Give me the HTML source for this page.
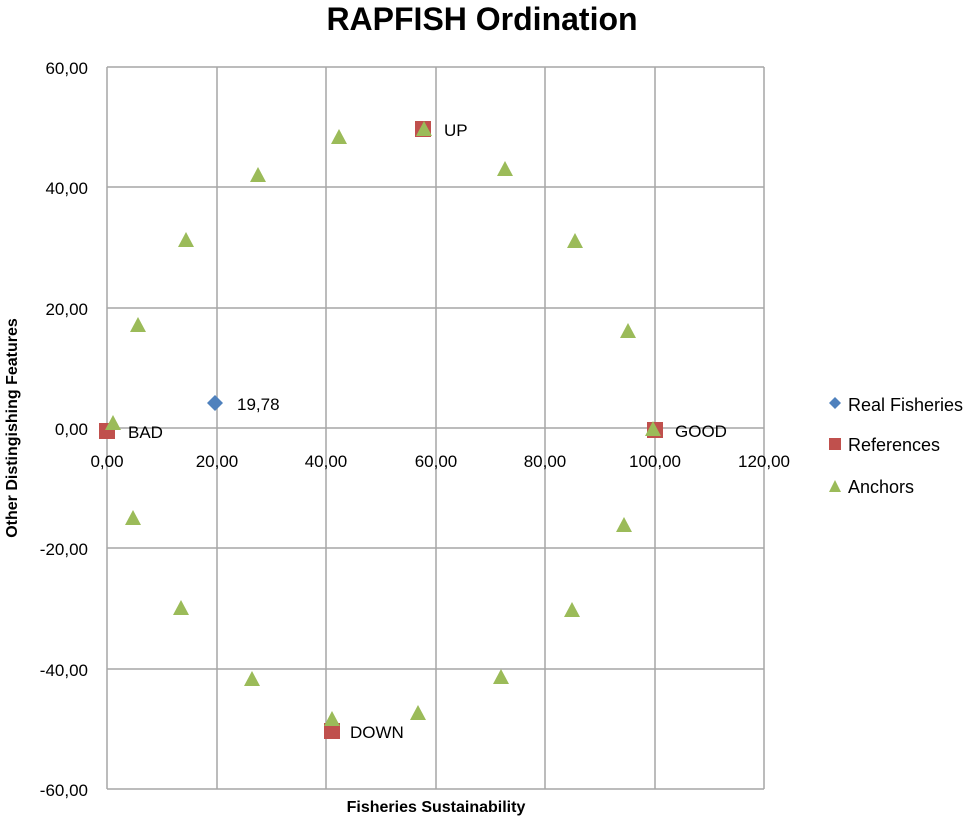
<!DOCTYPE html>
<html><head><meta charset="utf-8"><style>
body{margin:0;background:#fff}
svg text{font-family:"Liberation Sans",sans-serif;fill:#000}
</style></head><body>
<svg width="971" height="819" xmlns="http://www.w3.org/2000/svg">
<rect width="971" height="819" fill="#fff"/>
<text x="482" y="30" font-size="32" font-weight="bold" text-anchor="middle">RAPFISH Ordination</text>
<g stroke="#a6a6a6" stroke-width="1.5">
<line x1="107" y1="67" x2="107" y2="789"/>
<line x1="217" y1="67" x2="217" y2="789"/>
<line x1="326" y1="67" x2="326" y2="789"/>
<line x1="436" y1="67" x2="436" y2="789"/>
<line x1="545" y1="67" x2="545" y2="789"/>
<line x1="655" y1="67" x2="655" y2="789"/>
<line x1="764" y1="67" x2="764" y2="789"/>
<line x1="107" y1="67" x2="764" y2="67"/>
<line x1="107" y1="187" x2="764" y2="187"/>
<line x1="107" y1="308" x2="764" y2="308"/>
<line x1="107" y1="428" x2="764" y2="428"/>
<line x1="107" y1="548" x2="764" y2="548"/>
<line x1="107" y1="669" x2="764" y2="669"/>
<line x1="107" y1="789" x2="764" y2="789"/>
</g>
<g font-size="17" text-anchor="end">
<text x="88" y="74">60,00</text>
<text x="88" y="194">40,00</text>
<text x="88" y="315">20,00</text>
<text x="88" y="435">0,00</text>
<text x="88" y="555">-20,00</text>
<text x="88" y="676">-40,00</text>
<text x="88" y="796">-60,00</text>
</g>
<g font-size="17" text-anchor="middle">
<text x="107" y="467">0,00</text>
<text x="217" y="467">20,00</text>
<text x="326" y="467">40,00</text>
<text x="436" y="467">60,00</text>
<text x="545" y="467">80,00</text>
<text x="655" y="467">100,00</text>
<text x="764" y="467">120,00</text>
</g>
<text x="436" y="812" font-size="16" font-weight="bold" text-anchor="middle">Fisheries Sustainability</text>
<text transform="translate(17,428) rotate(-90)" font-size="16" font-weight="bold" text-anchor="middle">Other Distingishing  Features</text>
<g fill="#c0504d">
<rect x="99" y="423" width="16" height="16"/>
<rect x="415" y="121" width="16" height="16"/>
<rect x="647" y="422" width="16" height="16"/>
<rect x="324" y="723" width="16" height="16"/>
</g>
<polygon points="215,395 223,403 215,411 207,403" fill="#4f81bd"/>
<g fill="#9bbb59">
<polygon points="113,415 121,430 105,430"/>
<polygon points="138,317 146,332 130,332"/>
<polygon points="186,232 194,247 178,247"/>
<polygon points="258,167 266,182 250,182"/>
<polygon points="339,129 347,144 331,144"/>
<polygon points="424,121 432,136 416,136"/>
<polygon points="505,161 513,176 497,176"/>
<polygon points="575,233 583,248 567,248"/>
<polygon points="628,323 636,338 620,338"/>
<polygon points="653,421 661,436 645,436"/>
<polygon points="624,517 632,532 616,532"/>
<polygon points="572,602 580,617 564,617"/>
<polygon points="501,669 509,684 493,684"/>
<polygon points="418,705 426,720 410,720"/>
<polygon points="332,711 340,726 324,726"/>
<polygon points="252,671 260,686 244,686"/>
<polygon points="181,600 189,615 173,615"/>
<polygon points="133,510 141,525 125,525"/>
</g>
<g font-size="17">
<text x="128" y="438">BAD</text>
<text x="444" y="136">UP</text>
<text x="675" y="437">GOOD</text>
<text x="350" y="738">DOWN</text>
<text x="237" y="410">19,78</text>
</g>
<polygon points="835,397 841,403 835,409 829,403" fill="#4f81bd"/>
<text x="848" y="411" font-size="18">Real Fisheries</text>
<rect x="829" y="438" width="12" height="12" fill="#c0504d"/>
<text x="848" y="451" font-size="18">References</text>
<polygon points="835,480 841,492 829,492" fill="#9bbb59"/>
<text x="848" y="493" font-size="18">Anchors</text>
</svg>
</body></html>
